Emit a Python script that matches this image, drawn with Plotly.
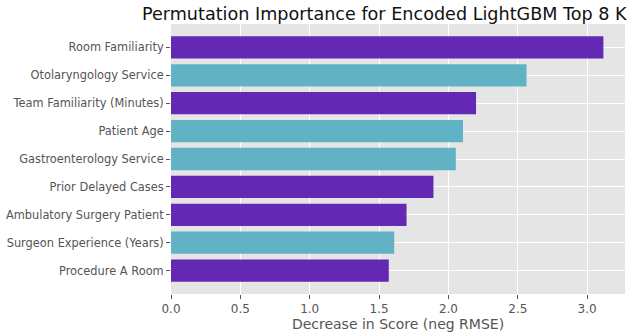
import plotly.graph_objects as go

# Permutation importance (decrease in neg RMSE) for the top encoded features
features = [
    "Room Familiarity",
    "Otolaryngology Service",
    "Team Familiarity (Minutes)",
    "Patient Age",
    "Gastroenterology Service",
    "Prior Delayed Cases",
    "Ambulatory Surgery Patient",
    "Surgeon Experience (Years)",
    "Procedure A Room",
]
importance = [3.117, 2.563, 2.199, 2.105, 2.053, 1.892, 1.698, 1.609, 1.570]
groups = ["a", "b", "a", "b", "b", "a", "a", "b", "a"]

group_colors = {"a": "#6429B4", "b": "#62B2C6"}
bar_colors = [group_colors[g] for g in groups]

x_ticks = [0.0, 0.5, 1.0, 1.5, 2.0, 2.5, 3.0]

font = "DejaVu Sans"
grey = "#555555"

fig = go.Figure(
    go.Bar(
        x=importance,
        y=features,
        orientation="h",
        width=0.8,
        marker=dict(color=bar_colors, line=dict(width=0)),
    )
)

n = len(features)
fig.update_layout(
    width=632,
    height=335,
    margin=dict(l=171, r=7, t=24, b=41),
    paper_bgcolor="white",
    plot_bgcolor="#E5E5E5",
    showlegend=False,
    font=dict(family=font, color=grey, size=11),
    title=dict(
        text="Permutation Importance for Encoded LightGBM Top 8 K",
        font=dict(family=font, size=17.6, color="#111111"),
        xref="container",
        yref="container",
        x=142 / 632,
        xanchor="left",
        y=1 - 13.5 / 335,
        yanchor="middle",
    ),
    bargap=0.2,
)

fig.update_xaxes(
    range=[0, max(importance) * 1.05],
    tickvals=x_ticks,
    ticktext=[f"{v:.1f}" for v in x_ticks],
    tickfont=dict(size=12, color=grey),
    ticks="outside",
    ticklen=4,
    tickcolor=grey,
    showgrid=True,
    gridcolor="white",
    gridwidth=1,
    zeroline=False,
    showline=False,
    automargin=False,
    title=dict(text="Decrease in Score (neg RMSE)", font=dict(size=14, color=grey), standoff=0),
)

fig.update_yaxes(
    type="category",
    categoryorder="array",
    categoryarray=features,
    range=[n - 1 + 0.84, -0.84],
    tickfont=dict(size=11.4, color=grey),
    ticks="outside",
    ticklen=4,
    tickcolor=grey,
    showgrid=True,
    gridcolor="white",
    gridwidth=1,
    zeroline=False,
    showline=False,
    automargin=False,
)

fig.write_html("out.html")
